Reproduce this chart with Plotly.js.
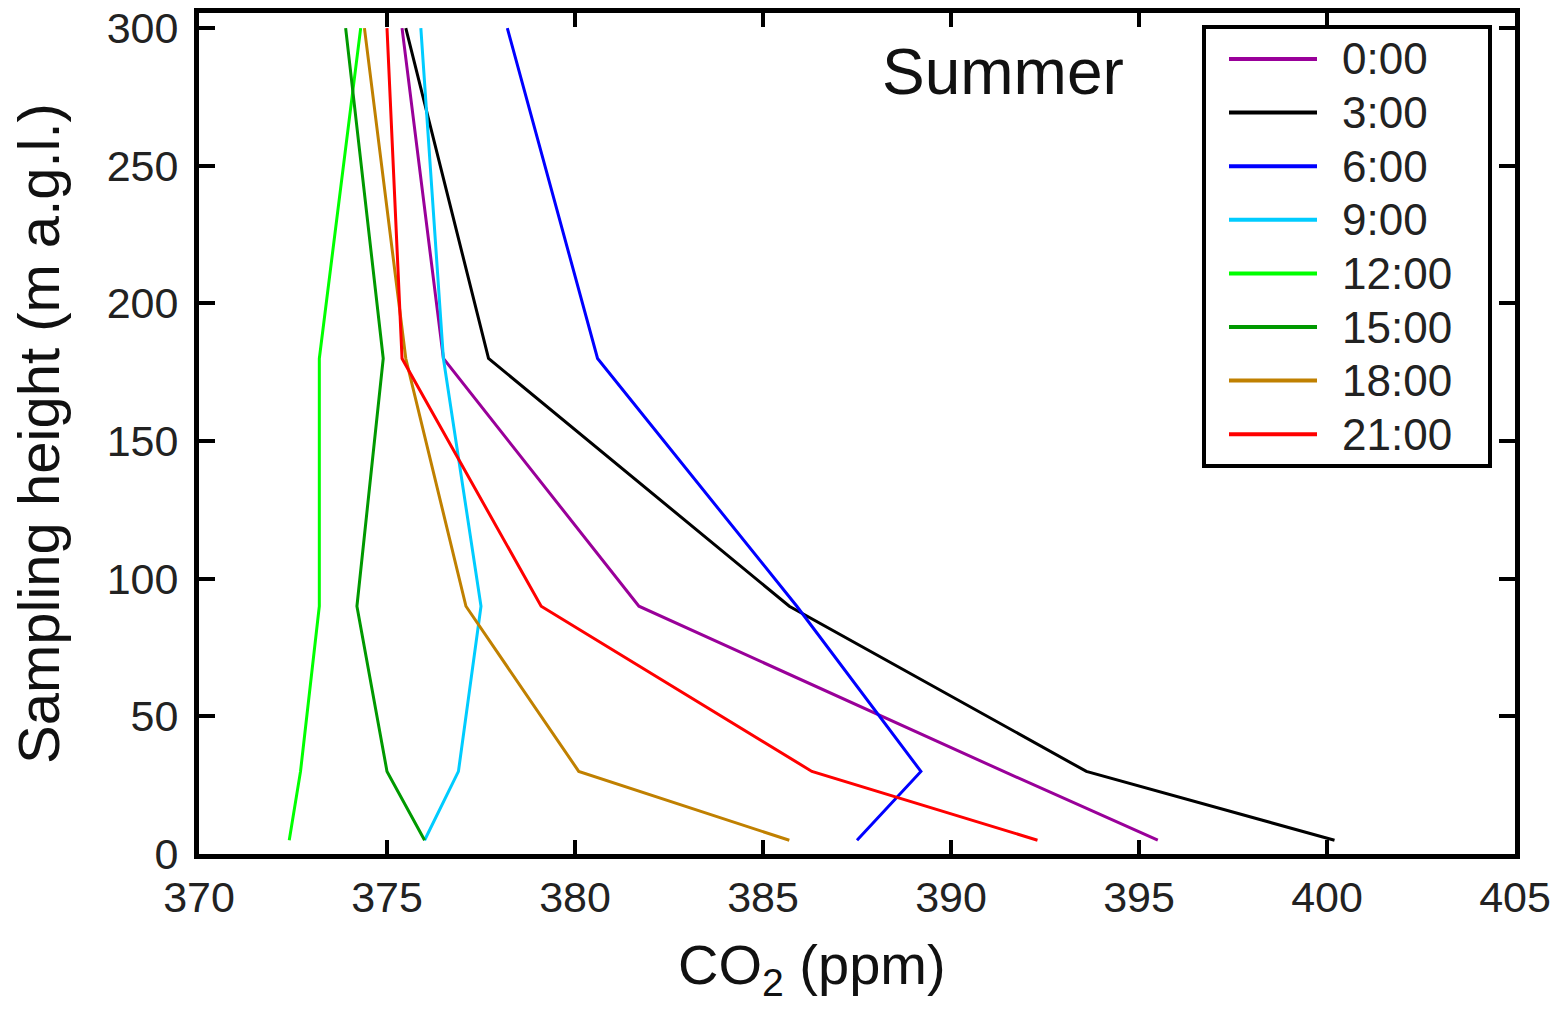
<!DOCTYPE html>
<html>
<head>
<meta charset="utf-8">
<script src="https://cdn.plot.ly/plotly-3.0.1.min.js"></script>
<style>html,body{margin:0;padding:0;background:#fff;}#chart{width:1557px;height:1010px;}</style>
</head>
<body>
<div id="chart"></div>
<script>
// ---- Data ----
const heights = [5, 30, 90, 180, 300];              // sampling height (m a.g.l.)
const seriesNames = ["0:00", "3:00", "6:00", "9:00", "12:00", "15:00", "18:00", "21:00"];
const seriesColors = ["#990099", "#000000", "#0000ff", "#00ccff", "#00ff00", "#009900", "#c08000", "#ff0000"];
const co2_0000 = [395.5, 391.4, 381.7, 376.5, 375.4];
const co2_0300 = [400.2, 393.6, 385.7, 377.7, 375.5];
const co2_0600 = [387.5, 389.2, 385.9, 380.6, 378.2];
const co2_0900 = [376.0, 376.9, 377.5, 376.5, 375.9];
const co2_1200 = [372.4, 372.7, 373.2, 373.2, 374.3];
const co2_1500 = [376.0, 375.0, 374.2, 374.9, 373.9];
const co2_1800 = [385.7, 380.1, 377.1, 375.5, 374.4];
const co2_2100 = [392.3, 386.3, 379.1, 375.4, 375.0];
const seriesValues = [co2_0000, co2_0300, co2_0600, co2_0900, co2_1200, co2_1500, co2_1800, co2_2100];
const xTicks = [370, 375, 380, 385, 390, 395, 400, 405];
const yTicks = [0, 50, 100, 150, 200, 250, 300];
const seasonLabel = "Summer";
const xTitle = "CO<sub>2</sub> (ppm)";
const yTitle = "Sampling height (m a.g.l.)";

// ---- Layout helpers (pixel -> paper) ----
const PX0 = 199, PX1 = 1515, PY0 = 13, PY1 = 854;
const px = v => (v - PX0) / (PX1 - PX0);
const py = v => (PY1 - v) / (PY1 - PY0);

const FONT = "Liberation Sans, Arial, sans-serif";

const traces = seriesNames.map((name, i) => ({
  type: "scatter",
  mode: "lines",
  name: name,
  x: seriesValues[i],
  y: heights,
  line: {color: seriesColors[i], width: 3},
  showlegend: false
}));

// custom legend (long line samples as in the reference)
const shapes = [{
  type: "rect", xref: "paper", yref: "paper",
  x0: px(1204), x1: px(1490), y0: py(466), y1: py(27),
  line: {color: "#000", width: 4}, fillcolor: "rgba(255,255,255,1)", layer: "above"
}];
const annotations = [{
  text: seasonLabel, xref: "paper", yref: "paper",
  x: px(1003), y: py(72), xanchor: "center", yanchor: "middle",
  showarrow: false, font: {family: FONT, size: 64, color: "#111"}
}, {
  text: xTitle, xref: "paper", yref: "paper",
  x: px(812), y: py(968), xanchor: "center", yanchor: "middle",
  showarrow: false, font: {family: FONT, size: 56, color: "#111"}
}];
seriesNames.forEach((name, i) => {
  const yy = 59 + i * 53.6;
  shapes.push({
    type: "line", xref: "paper", yref: "paper",
    x0: px(1229), x1: px(1317), y0: py(yy), y1: py(yy),
    line: {color: seriesColors[i], width: 4}, layer: "above"
  });
  annotations.push({
    text: name, xref: "paper", yref: "paper",
    x: px(1340), y: py(yy), xanchor: "left", yanchor: "middle",
    showarrow: false, font: {family: FONT, size: 44, color: "#222"}
  });
});

const layout = {
  width: 1557, height: 1010,
  margin: {l: PX0, r: 1557 - PX1, t: PY0, b: 1010 - PY1, pad: 0},
  paper_bgcolor: "#fff", plot_bgcolor: "#fff",
  font: {family: FONT, color: "#222"},
  xaxis: {
    range: [370, 405], tickvals: xTicks, ticktext: xTicks.map(String),
    showgrid: false, zeroline: false,
    showline: true, linecolor: "#000", linewidth: 5, mirror: "ticks",
    ticks: "inside", ticklen: 14, tickwidth: 4, tickcolor: "#000",
    tickfont: {family: FONT, size: 43, color: "#222"},
    ticklabelstandoff: 1,
    automargin: false
  },
  yaxis: {
    range: [0, 305.5], tickvals: yTicks, ticktext: yTicks.map(String),
    showgrid: false, zeroline: false,
    showline: true, linecolor: "#000", linewidth: 5, mirror: "ticks",
    ticks: "inside", ticklen: 16, tickwidth: 4, tickcolor: "#000",
    tickfont: {family: FONT, size: 43, color: "#222"},
    ticklabelstandoff: 7,
    title: {text: yTitle, font: {family: FONT, size: 58, color: "#111"}, standoff: 30},
    automargin: false
  },
  shapes: shapes,
  annotations: annotations,
  showlegend: false
};

Plotly.newPlot("chart", traces, layout, {staticPlot: true, displayModeBar: false});
</script>
</body>
</html>
